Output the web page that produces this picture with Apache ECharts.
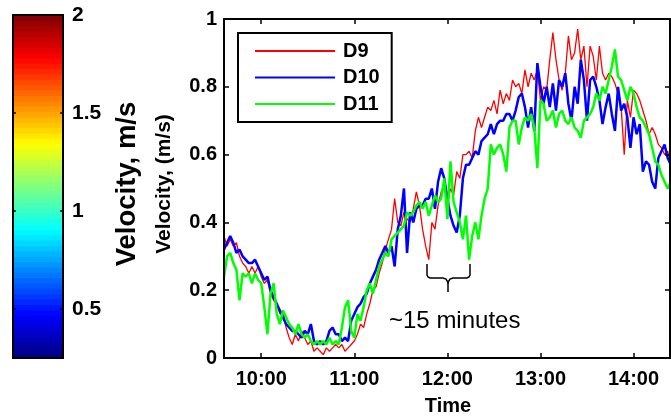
<!DOCTYPE html>
<html><head><meta charset="utf-8">
<script src="https://cdn.jsdelivr.net/npm/echarts@6/dist/echarts.min.js"></script>
<style>html,body{margin:0;padding:0;background:#fff}#c{width:671px;height:417px}</style>
</head><body><div id="c"></div>
<script>
// time axis in minutes since midnight, one sample every 2 minutes from 9:36
const startMinute = 576;
const stepMinutes = 2;
const timeTicks = [600, 660, 720, 780, 840];
const timeTickLabels = ['10:00', '11:00', '12:00', '13:00', '14:00'];
const velTicks = [0, 0.2, 0.4, 0.6, 0.8, 1];
const cbarRange = [0.25, 2];
const cbarTicks = [0.5, 1, 1.5, 2];
const cbarLevels = 64;
const seriesNames = ['D9', 'D10', 'D11'];

const d9 = [0.36,0.33,0.35,0.33,0.34,0.30,0.28,0.27,0.25,0.27,0.25,0.27,0.24,
0.22,0.23,0.19,0.17,0.16,0.13,0.14,0.09,0.06,0.04,0.07,0.05,
0.08,0.06,0.04,0.05,0.02,0.03,0.02,0.01,0.03,0.02,0.03,0.04,
0.03,0.04,0.02,0.03,0.04,0.05,0.07,0.10,0.09,0.13,0.16,0.20,
0.21,0.25,0.28,0.32,0.35,0.38,0.47,0.40,0.39,0.43,0.41,0.40,
0.44,0.49,0.45,0.38,0.33,0.29,0.40,0.38,0.45,0.49,0.51,0.45,
0.50,0.48,0.55,0.53,0.60,0.60,0.61,0.59,0.67,0.71,0.68,0.71,
0.74,0.73,0.76,0.72,0.79,0.75,0.78,0.76,0.82,0.80,0.81,0.78,
0.85,0.80,0.84,0.82,0.85,0.76,0.80,0.79,0.88,0.96,0.88,0.82,
0.79,0.84,0.95,0.88,0.90,0.97,0.88,0.92,0.80,0.92,0.89,0.82,
0.92,0.84,0.82,0.84,0.83,0.81,0.78,0.74,0.60,0.76,0.71,0.79,
0.78,0.76,0.73,0.70,0.66,0.68,0.66,0.63,0.62,0.60,0.61,0.57];

const d10 = [0.32,0.34,0.36,0.34,0.31,0.32,0.30,0.29,0.28,0.28,0.29,0.27,0.25,
0.23,0.24,0.20,0.18,0.16,0.14,0.12,0.10,0.09,0.08,0.08,0.07,
0.06,0.08,0.07,0.10,0.05,0.04,0.05,0.04,0.05,0.08,0.09,0.07,
0.07,0.05,0.06,0.05,0.11,0.13,0.15,0.16,0.18,0.19,0.22,0.24,
0.26,0.29,0.31,0.33,0.31,0.33,0.27,0.38,0.42,0.50,0.31,0.43,
0.40,0.44,0.45,0.45,0.47,0.47,0.50,0.44,0.52,0.56,0.53,0.47,
0.42,0.39,0.37,0.42,0.53,0.57,0.57,0.59,0.61,0.60,0.64,0.65,
0.66,0.69,0.66,0.69,0.70,0.70,0.72,0.72,0.70,0.73,0.77,0.78,
0.74,0.68,0.74,0.67,0.87,0.80,0.75,0.80,0.74,0.81,0.73,0.82,
0.80,0.84,0.75,0.70,0.80,0.75,0.88,0.82,0.70,0.82,0.83,0.80,
0.76,0.69,0.74,0.78,0.72,0.67,0.80,0.73,0.75,0.71,0.62,0.71,
0.66,0.69,0.55,0.58,0.57,0.52,0.50,0.59,0.61,0.63,0.59,0.57];

const d11 = [0.24,0.30,0.31,0.28,0.26,0.17,0.25,0.24,0.25,0.22,0.25,0.23,0.22,
0.15,0.07,0.19,0.22,0.13,0.10,0.14,0.12,0.10,0.09,0.07,0.10,
0.07,0.06,0.07,0.05,0.04,0.05,0.04,0.05,0.04,0.06,0.04,0.05,
0.04,0.09,0.15,0.17,0.08,0.06,0.13,0.11,0.15,0.20,0.22,0.19,
0.23,0.27,0.29,0.31,0.30,0.35,0.36,0.37,0.38,0.39,0.43,0.42,
0.43,0.45,0.46,0.44,0.46,0.42,0.45,0.48,0.46,0.47,0.53,0.41,
0.58,0.46,0.43,0.40,0.35,0.42,0.29,0.36,0.40,0.35,0.42,0.47,
0.50,0.63,0.60,0.62,0.63,0.60,0.55,0.68,0.70,0.70,0.63,0.68,
0.71,0.70,0.72,0.68,0.56,0.76,0.75,0.70,0.71,0.73,0.68,0.72,
0.73,0.70,0.69,0.71,0.68,0.67,0.65,0.70,0.71,0.72,0.74,0.78,
0.76,0.80,0.78,0.82,0.86,0.91,0.83,0.82,0.79,0.76,0.80,0.78,
0.74,0.71,0.70,0.68,0.66,0.62,0.58,0.57,0.54,0.52,0.50,0.52];

const FONT = 'Liberation Sans';
const toPairs = arr => arr.map((v, i) => [startMinute + i * stepMinutes, v]);

// jet colormap bands for the colour bar
function jet(x) {
  const c = v => Math.round(255 * Math.max(0, Math.min(1, v)));
  return 'rgb(' + c(1.5 - Math.abs(4 * x - 3)) + ',' + c(1.5 - Math.abs(4 * x - 2)) + ',' + c(1.5 - Math.abs(4 * x - 1)) + ')';
}
const bandStep = (cbarRange[1] - cbarRange[0]) / cbarLevels;
const bands = [], bandColors = [];
for (let k = 0; k < cbarLevels; k++) {
  bands.push([0, cbarRange[0] + k * bandStep, cbarRange[0] + (k + 1) * bandStep]);
  bandColors.push(jet((k + 0.5) / cbarLevels));
}

const chart = echarts.init(document.getElementById('c'), null, {renderer: 'canvas'});
const lbl = {color: '#000', fontSize: 20, fontWeight: 'bold', fontFamily: FONT};
const axLine = {show: true, onZero: false, lineStyle: {color: '#000', width: 2}};

chart.setOption({
  animation: false,
  backgroundColor: '#fff',
  grid: [
    {left: 224, top: 19, width: 446, height: 339},
    {left: 13, top: 15, width: 50, height: 343}
  ],
  xAxis: [
    {gridIndex: 0, type: 'value', min: 576, max: 863.5, position: 'bottom', z: 5,
     axisLine: axLine,
     axisTick: {show: true, inside: true, length: 5, customValues: timeTicks, lineStyle: {color: '#000', width: 1.5}},
     axisLabel: Object.assign({show: true, margin: 11, customValues: timeTicks,
       formatter: v => timeTickLabels[timeTicks.indexOf(v)]}, lbl),
     splitLine: {show: false}},
    {gridIndex: 0, type: 'value', min: 576, max: 863.5, position: 'top', z: 5,
     axisLine: axLine,
     axisTick: {show: true, inside: true, length: 5, customValues: timeTicks, lineStyle: {color: '#000', width: 1.5}},
     axisLabel: {show: false}, splitLine: {show: false}},
    {gridIndex: 1, type: 'value', min: 0, max: 1, position: 'bottom', z: 5,
     axisLine: axLine, axisTick: {show: false}, axisLabel: {show: false}, splitLine: {show: false}},
    {gridIndex: 1, type: 'value', min: 0, max: 1, position: 'top', z: 5,
     axisLine: axLine, axisTick: {show: false}, axisLabel: {show: false}, splitLine: {show: false}}
  ],
  yAxis: [
    {gridIndex: 0, type: 'value', min: 0, max: 1, interval: 0.2, position: 'left', z: 5,
     axisLine: axLine,
     axisTick: {show: true, inside: true, length: 5, lineStyle: {color: '#000', width: 1.5}},
     axisLabel: Object.assign({show: true, margin: 7, customValues: velTicks}, lbl),
     splitLine: {show: false}},
    {gridIndex: 0, type: 'value', min: 0, max: 1, interval: 0.2, position: 'right', z: 5,
     axisLine: axLine,
     axisTick: {show: true, inside: true, length: 5, lineStyle: {color: '#000', width: 1.5}},
     axisLabel: {show: false}, splitLine: {show: false}},
    {gridIndex: 1, type: 'value', min: cbarRange[0], max: cbarRange[1], position: 'right', z: 5,
     axisLine: axLine,
     axisTick: {show: true, inside: true, length: 3, customValues: cbarTicks, lineStyle: {color: '#000', width: 1.5}},
     axisLabel: Object.assign({show: true, margin: 9, customValues: cbarTicks}, lbl, {fontSize: 21}),
     splitLine: {show: false}},
    {gridIndex: 1, type: 'value', min: cbarRange[0], max: cbarRange[1], position: 'left', z: 5,
     axisLine: axLine,
     axisTick: {show: true, inside: true, length: 3, customValues: cbarTicks, lineStyle: {color: '#000', width: 1.5}},
     axisLabel: {show: false}, splitLine: {show: false}}
  ],
  legend: {
    data: seriesNames, orient: 'vertical', left: 238, top: 33,
    itemWidth: 80, itemHeight: 14, itemGap: 6.5,
    padding: [8, 12, 8, 16], borderColor: '#000', borderWidth: 2, backgroundColor: '#fff',
    itemStyle: {opacity: 0, borderWidth: 0},
    textStyle: {color: '#000', fontSize: 20, fontWeight: 'bold', fontFamily: FONT, padding: [0, 0, 0, 3]}
  },
  graphic: [
    {type: 'text', x: 127, y: 184, rotation: Math.PI / 2,
     style: {text: 'Velocity, m/s', fill: '#000', font: 'bold 27.5px "Liberation Sans"', align: 'center', verticalAlign: 'middle'}},
    {type: 'text', x: 164, y: 184, rotation: Math.PI / 2,
     style: {text: 'Velocity, (m/s)', fill: '#000', font: 'bold 21px "Liberation Sans"', align: 'center', verticalAlign: 'middle'}},
    {type: 'text', x: 448, y: 406,
     style: {text: 'Time', fill: '#000', font: 'bold 20px "Liberation Sans"', align: 'center', verticalAlign: 'middle'}},
    {type: 'text', x: 389, y: 321,
     style: {text: '~15 minutes', fill: '#000', font: '24px "Liberation Sans"', align: 'left', verticalAlign: 'middle'}},
    {type: 'polyline',
     shape: {points: [[427, 264], [427, 275], [428, 277], [430, 278], [443, 278], [446, 279], [447.5, 281.5], [448, 284], [448, 292],
                      [448, 284], [448.5, 281.5], [450, 279], [453, 278], [467, 278], [469, 277], [470, 275], [470, 264]]},
     style: {stroke: '#000', lineWidth: 1.5, fill: null}}
  ],
  series: [
    {type: 'custom', xAxisIndex: 2, yAxisIndex: 2, data: bands, encode: {x: 0, y: [1, 2]}, z: 1, silent: true,
     renderItem: (params, api) => {
       const a = api.coord([0, api.value(2)]);
       const b = api.coord([1, api.value(1)]);
       return {type: 'rect', shape: {x: a[0], y: a[1] - 0.5, width: b[0] - a[0], height: b[1] - a[1] + 1},
               style: {fill: bandColors[params.dataIndex]}};
     }},
    {name: 'D9', type: 'line', xAxisIndex: 0, yAxisIndex: 0, data: toPairs(d9), symbol: 'none', showSymbol: false,
     lineStyle: {color: '#ff0000', width: 1.3}, itemStyle: {color: '#ff0000'}, clip: true},
    {name: 'D10', type: 'line', xAxisIndex: 0, yAxisIndex: 0, data: toPairs(d10), symbol: 'none', showSymbol: false,
     lineStyle: {color: '#0000ff', width: 2.5}, itemStyle: {color: '#0000ff'}, clip: true},
    {name: 'D11', type: 'line', xAxisIndex: 0, yAxisIndex: 0, data: toPairs(d11), symbol: 'none', showSymbol: false,
     lineStyle: {color: '#00ff00', width: 2.5}, itemStyle: {color: '#00ff00'}, clip: true}
  ]
});
</script>
</body></html>
